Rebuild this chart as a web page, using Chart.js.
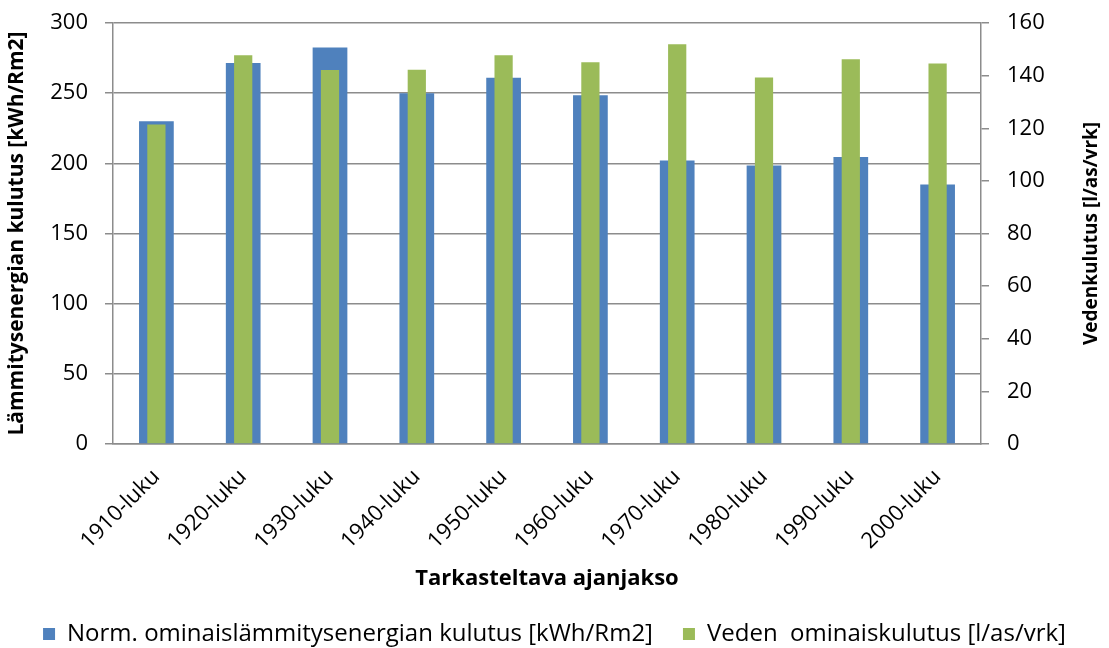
<!DOCTYPE html>
<html>
<head>
<meta charset="utf-8">
<script src="https://cdn.jsdelivr.net/npm/chart.js@4/dist/chart.umd.min.js"></script>
<style>
html,body{margin:0;padding:0;background:#fff;overflow:hidden;}
#wrap{width:1109px;height:648px;position:relative;}
</style>
</head>
<body>
<div id="wrap"><canvas id="c" width="1109" height="648"></canvas></div>
<script>
const categories = ['1910-luku','1920-luku','1930-luku','1940-luku','1950-luku','1960-luku','1970-luku','1980-luku','1990-luku','2000-luku'];
const heatValues = [230, 271.5, 282.5, 250, 261, 248.6, 202, 198.5, 204.5, 185];
const waterValues = [121.4, 147.7, 142.1, 142.2, 147.7, 145.1, 151.9, 139.3, 146.2, 144.6];
const heatLabel = 'Norm. ominaislämmitysenergian kulutus [kWh/Rm2]';
const waterLabel = 'Veden  ominaiskulutus [l/as/vrk]';
const leftTitle = 'Lämmitysenergian kulutus [kWh/Rm2]';
const rightTitle = 'Vedenkulutus [l/as/vrk]';
const xTitle = 'Tarkasteltava ajanjakso';

const FONT = "'Open Sans', sans-serif";
const GRID = '#8c8c8c';

const rightTitlePlugin = {
  id: 'rightTitle',
  afterDraw(chart) {
    const ctx = chart.ctx;
    const a = chart.chartArea;
    ctx.save();
    ctx.translate(1092, (a.top + a.bottom) / 2);
    ctx.rotate(-Math.PI / 2);
    ctx.font = 'bold 19px ' + FONT;
    ctx.fillStyle = '#000';
    ctx.textAlign = 'center';
    ctx.textBaseline = 'middle';
    ctx.fillText(rightTitle, 0, 0);
    ctx.restore();
  }
};

new Chart(document.getElementById('c'), {
  type: 'bar',
  data: {
    labels: categories,
    datasets: [
      {
        label: heatLabel,
        data: heatValues,
        backgroundColor: '#4F81BD',
        yAxisID: 'y',
        grouped: false,
        order: 1,
        categoryPercentage: 1,
        barPercentage: 0.4
      },
      {
        label: waterLabel,
        data: waterValues,
        backgroundColor: '#9BBB59',
        yAxisID: 'y1',
        grouped: false,
        order: 0,
        categoryPercentage: 1,
        barPercentage: 0.21
      }
    ]
  },
  plugins: [rightTitlePlugin],
  options: {
    responsive: false,
    animation: false,
    layout: { padding: { top: 23, bottom: -8, left: 0, right: 0 } },
    plugins: {
      tooltip: { enabled: false },
      legend: {
        position: 'bottom',
        labels: {
          font: { family: FONT, size: 24 },
          color: '#000',
          boxWidth: 12,
          boxHeight: 12,
          padding: 30,
          sort: (a, b) => a.datasetIndex - b.datasetIndex
        }
      }
    },
    scales: {
      x: {
        grid: { display: false, drawTicks: false },
        border: { display: true, color: GRID, width: 1.5 },
        ticks: {
          font: { family: FONT, size: 22 },
          color: '#000',
          minRotation: 45,
          maxRotation: 45,
          padding: 20
        },
        title: {
          display: true,
          text: xTitle,
          font: { family: FONT, size: 22, weight: 'bold' },
          color: '#000',
          padding: { top: 6, bottom: 0 }
        },
        afterFit(scale) { scale.height = 148; }
      },
      y: {
        position: 'left',
        min: 0,
        max: 300,
        ticks: {
          stepSize: 50,
          font: { family: FONT, size: 22 },
          color: '#000',
          padding: 17
        },
        grid: { color: GRID, lineWidth: 1.5, tickLength: 8, drawTicks: true },
        border: { display: true, color: GRID, width: 1.5 },
        title: {
          display: true,
          text: leftTitle,
          font: { family: FONT, size: 21, weight: 'bold' },
          color: '#000',
          padding: { top: 4, bottom: 0 }
        },
        afterFit(scale) { scale.width = 113; scale.paddingTop = 0; scale.paddingBottom = 0; }
      },
      y1: {
        position: 'right',
        min: 0,
        max: 160,
        ticks: {
          stepSize: 20,
          font: { family: FONT, size: 22 },
          color: '#000',
          padding: 18
        },
        grid: { drawOnChartArea: false, color: GRID, lineWidth: 1.5, tickLength: 8, drawTicks: true },
        border: { display: true, color: GRID, width: 1.5 },
        afterFit(scale) { scale.width = 128; scale.paddingTop = 0; scale.paddingBottom = 0; }
      }
    }
  }
});
</script>
</body>
</html>
